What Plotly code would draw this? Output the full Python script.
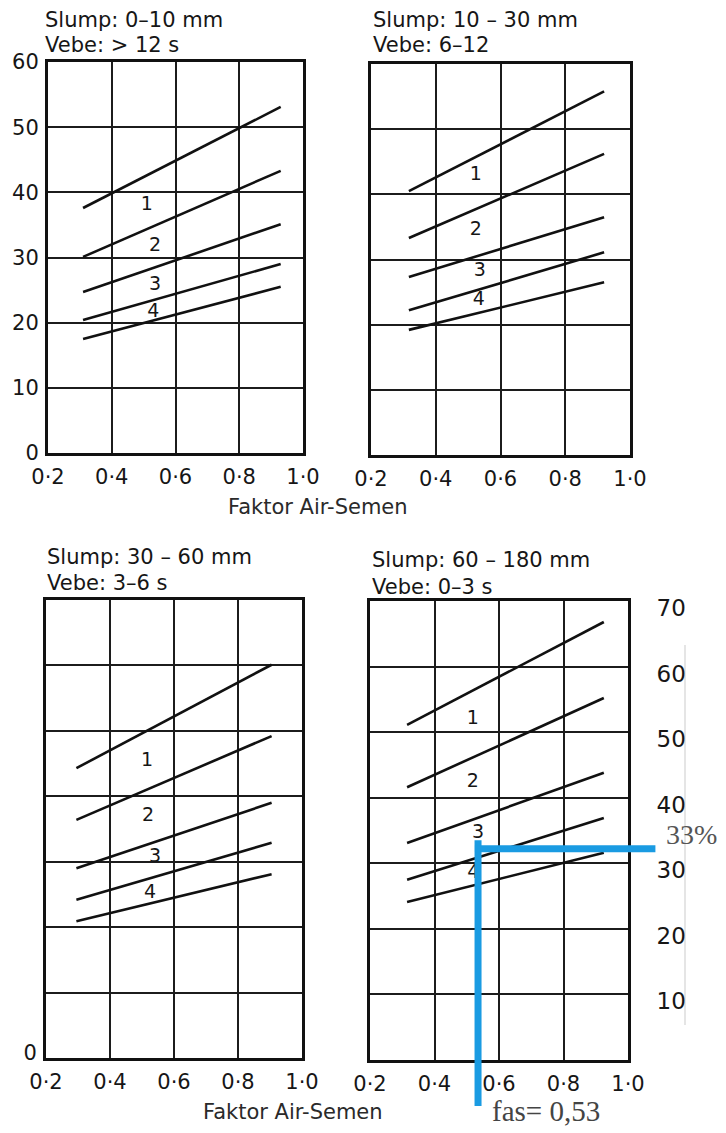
import plotly.graph_objects as go

W, H = 726, 1133

# ---------------- data ----------------
x_tickvals = [0.2, 0.4, 0.6, 0.8, 1.0]
x_ticktext = ["0·2", "0·4", "0·6", "0·8", "1·0"]
zone_labels = ["1", "2", "3", "4"]

# Panel 1: Slump 0-10 mm
p1_title = ["Slump: 0–10 mm", "Vebe: > 12 s"]
p1_wc = [0.31, 0.93]
p1_lines = [[37.6, 53.1], [30.1, 43.3], [24.7, 35.1], [20.4, 29.0], [17.5, 25.5]]
p1_lab_x = [0.51, 0.536, 0.536, 0.53]
p1_lab_y = [38.0, 31.7, 25.8, 21.6]

# Panel 2: Slump 10-30 mm
p2_title = ["Slump: 10 – 30 mm", "Vebe: 6–12"]
p2_wc = [0.317, 0.92]
p2_lines = [[40.5, 55.8], [33.3, 46.2], [27.3, 36.5], [22.2, 31.1], [19.2, 26.5]]
p2_lab_x = [0.524, 0.524, 0.536, 0.533]
p2_lab_y = [42.9, 34.5, 28.2, 23.8]

# Panel 3: Slump 30-60 mm
p3_title = ["Slump: 30 – 60 mm", "Vebe: 3–6 s"]
p3_wc = [0.295, 0.905]
p3_lines = [[44.3, 60.1], [36.4, 49.2], [29.0, 39.0], [24.2, 32.9], [20.9, 28.1]]
p3_lab_x = [0.516, 0.519, 0.541, 0.525]
p3_lab_y = [45.3, 36.9, 30.7, 25.2]

# Panel 4: Slump 60-180 mm
p4_title = ["Slump: 60 – 180 mm", "Vebe: 0–3 s"]
p4_wc = [0.315, 0.925]
p4_lines = [[51.1, 66.8], [41.6, 55.2], [33.1, 43.8], [27.5, 36.9], [24.1, 31.6]]
p4_lab_x = [0.519, 0.519, 0.535, 0.52]
p4_lab_y = [51.9, 42.4, 34.6, 28.5]

y_ticks_top = [0, 10, 20, 30, 40, 50, 60]
y_ticks_bottom = [0, 10, 20, 30, 40, 50, 60, 70]

# reading guide (blue)
guide_fas = 0.535
guide_pct = 32.2
guide_label_x = "fas= 0,53"
guide_label_y = "33%"
x_label = "Faktor Air-Semen"

# ---------------- layout helpers ----------------
def fx(px):
    return px / W

def fy(py):
    return 1 - py / H

SANS = "DejaVu Sans"
SERIF = "Liberation Serif"
INK = "#161616"

panels = [
    dict(title=p1_title, wc=p1_wc, lines=p1_lines, lx=p1_lab_x, ly=p1_lab_y,
         box=(48, 303, 62, 453), ymax=60, yticks=y_ticks_top,
         ytext=[str(v) for v in y_ticks_top], side="left", tpos=(43, 20, 45)),
    dict(title=p2_title, wc=p2_wc, lines=p2_lines, lx=p2_lab_x, ly=p2_lab_y,
         box=(371, 630, 64, 455), ymax=60, yticks=y_ticks_top,
         ytext=["" for v in y_ticks_top], side="left", tpos=(371, 20, 45)),
    dict(title=p3_title, wc=p3_wc, lines=p3_lines, lx=p3_lab_x, ly=p3_lab_y,
         box=(46, 302, 600, 1058), ymax=70, yticks=y_ticks_bottom,
         ytext=["0"] + ["" for v in y_ticks_bottom[1:]], side="left", tpos=(45, 557, 583)),
    dict(title=p4_title, wc=p4_wc, lines=p4_lines, lx=p4_lab_x, ly=p4_lab_y,
         box=(370, 628, 601, 1060), ymax=70, yticks=y_ticks_bottom,
         ytext=[""] + [str(v) for v in y_ticks_bottom[1:]], side="right", tpos=(370, 560, 587)),
]

fig = go.Figure()
layout = dict(
    template="none",
    width=W, height=H, margin=dict(l=0, r=0, t=0, b=0, pad=0, autoexpand=False),
    paper_bgcolor="white", plot_bgcolor="white", showlegend=False,
    font=dict(family=SANS, color=INK),
)

annotations = []
shapes = []

for i, p in enumerate(panels):
    n = i + 1
    xa = "x" if n == 1 else f"x{n}"
    ya = "y" if n == 1 else f"y{n}"
    xkey = "xaxis" if n == 1 else f"xaxis{n}"
    ykey = "yaxis" if n == 1 else f"yaxis{n}"
    x0, x1, y0, y1 = p["box"]

    for ys in p["lines"]:
        fig.add_trace(go.Scatter(
            x=p["wc"], y=ys, mode="lines", xaxis=xa, yaxis=ya,
            line=dict(color="#111111", width=2.6), hoverinfo="skip"))
    fig.add_trace(go.Scatter(
        x=p["lx"], y=p["ly"], text=zone_labels, mode="text", xaxis=xa, yaxis=ya,
        textfont=dict(family=SANS, size=19, color=INK), hoverinfo="skip"))

    layout[xkey] = dict(
        domain=[fx(x0), fx(x1)], range=[0.2, 1.0], anchor=ya, automargin=False,
        tickmode="array", tickvals=x_tickvals, ticktext=x_ticktext,
        showgrid=True, gridcolor="#1c1c1c", gridwidth=2,
        showline=True, linecolor="#111111", linewidth=3, mirror=True,
        zeroline=False, ticks="", tickfont=dict(family=SANS, size=21, color=INK),
        ticklabelstandoff=3,
    )
    ydict = dict(
        domain=[fy(y1), fy(y0)], range=[0, p["ymax"]], anchor=xa, automargin=False,
        tickmode="array", tickvals=p["yticks"], ticktext=p["ytext"],
        showgrid=True, gridcolor="#1c1c1c", gridwidth=2,
        showline=True, linecolor="#111111", linewidth=3, mirror=True,
        zeroline=False, ticks="", side=p["side"],
        tickfont=dict(family=SANS, size=21, color=INK),
        ticklabelstandoff=2,
    )
    if p["side"] == "right":
        ydict.update(ticklabelstandoff=21, ticklabelshift=7,
                     tickfont=dict(family=SANS, size=23, color=INK))
    if n == 3:
        ydict.update(ticklabelshift=-5)
    layout[ykey] = ydict

    tx, t1y, t2y = p["tpos"]
    for txt, yy in zip(p["title"], (t1y, t2y)):
        annotations.append(dict(
            x=fx(tx), y=fy(yy), xref="paper", yref="paper", text=txt,
            showarrow=False, xanchor="left", yanchor="middle",
            font=dict(family=SANS, size=21, color=INK)))

# x-axis titles
annotations.append(dict(x=fx(318), y=fy(507), xref="paper", yref="paper", text=x_label,
                        showarrow=False, xanchor="center", yanchor="middle",
                        font=dict(family=SANS, size=21, color="#2a2a2a")))
annotations.append(dict(x=fx(293), y=fy(1112), xref="paper", yref="paper", text=x_label,
                        showarrow=False, xanchor="center", yanchor="middle",
                        font=dict(family=SANS, size=21, color="#2a2a2a")))

# reading guide on panel 4
BLUE = "#1a9be2"
gx = (guide_fas - 0.2) / 0.8
gy = guide_pct / 70.0
shapes.append(dict(type="line", xref="x4 domain", yref="y4 domain",
                   x0=gx, x1=gx, y0=-7.0 / 70, y1=gy + 1.3 / 70,
                   line=dict(color=BLUE, width=7), layer="above"))
shapes.append(dict(type="line", xref="x4 domain", yref="y4 domain",
                   x0=gx - 0.012, x1=(1.085 - 0.2) / 0.8, y0=gy, y1=gy,
                   line=dict(color=BLUE, width=7), layer="above"))
# faint line right of the secondary scale
shapes.append(dict(type="line", xref="paper", yref="paper",
                   x0=fx(685), x1=fx(685), y0=fy(645), y1=fy(1025),
                   line=dict(color="#dcdcdc", width=1.5), layer="below"))

annotations.append(dict(x=fx(664), y=fy(834), xref="paper", yref="paper", text=guide_label_y,
                        showarrow=False, xanchor="left", yanchor="middle",
                        font=dict(family=SERIF, size=28, color="#555555")))
annotations.append(dict(x=fx(490), y=fy(1111), xref="paper", yref="paper", text=guide_label_x,
                        showarrow=False, xanchor="left", yanchor="middle",
                        font=dict(family=SERIF, size=29, color="#444444")))

layout["annotations"] = annotations
layout["shapes"] = shapes
fig.update_layout(**layout)

fig.write_html("out.html")
